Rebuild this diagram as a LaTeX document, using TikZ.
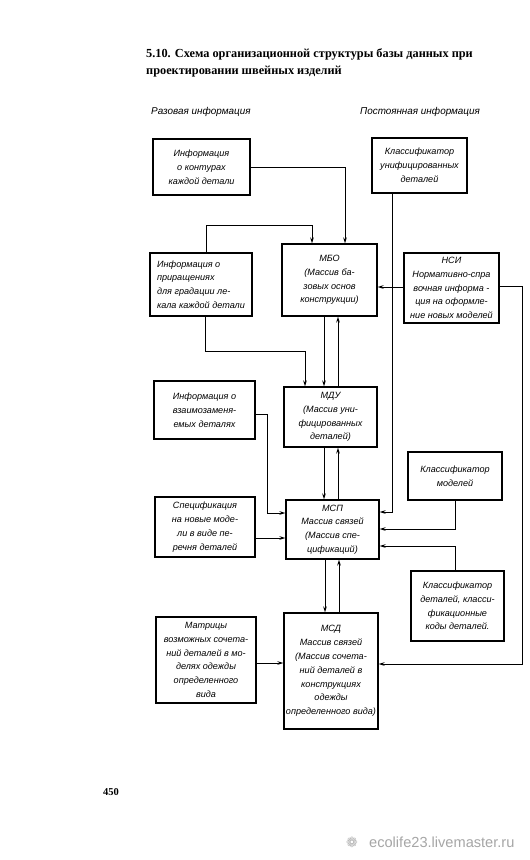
\documentclass[tikz,border=0pt]{standalone}
\usepackage{fontspec}
\setmainfont{Liberation Serif}
\newfontfamily\boxfont{Liberation Sans}
\newfontfamily\symfont{DejaVu Sans}
\usetikzlibrary{arrows.meta}
\tikzset{
  box/.style={draw, line width=1.2pt, inner sep=1pt, align=center,
    font=\boxfont\itshape\fontsize{9.1}{13.8}\selectfont},
  arr/.style={line width=0.95pt, -{Stealth[length=6pt,width=3.6pt]}},
  hdr/.style={font=\boxfont\itshape\fontsize{9.9}{11}\selectfont, inner sep=0pt},
}
\begin{document}
\begin{tikzpicture}[x=1pt,y=-1pt]
\useasboundingbox (0,0) rectangle (530,860);
\fill[white] (0,0) rectangle (530,860);
% title
\node[anchor=west, inner sep=0pt, align=left, font=\bfseries\fontsize{12.3}{16.5}\selectfont] (title) at (146,63)
  {5.10. Схема организационной структуры базы данных при\\проектировании швейных изделий};
\node[hdr, anchor=west] (h1) at (151,112) {Разовая информация};
\node[hdr, anchor=west] (h2) at (360,112) {Постоянная информация};
% boxes
\node[box, minimum width=97pt, minimum height=56pt] (b1) at (201.5,167) {Информация\\о контурах\\каждой детали};
\node[box, minimum width=95pt, minimum height=55pt] (b2) at (419.5,165.5) {Классификатор\\унифицированных\\деталей};
\node[box, minimum width=102pt, minimum height=63pt, align=left] (b3) at (201,284.5) {Информация о\\приращениях\\для градации ле-\\кала каждой детали};
\node[box, minimum width=95pt, minimum height=72pt] (mbo) at (329.5,280) {МБО\\(Массив ба-\\зовых основ\\конструкции)};
\node[box, minimum width=95pt, minimum height=70pt] (nsi) at (451.5,288) {НСИ\\Нормативно-спра\\вочная информа -\\ция на оформле-\\ние новых моделей};
\node[box, minimum width=101pt, minimum height=58pt] (b4) at (204.5,410) {Информация о\\взаимозаменя-\\емых деталях};
\node[box, minimum width=93pt, minimum height=60pt] (mdu) at (330.5,417) {МДУ\\(Массив уни-\\фицированных\\деталей)};
\node[box, minimum width=94pt, minimum height=48pt] (klm) at (455,476) {Классификатор\\моделей};
\node[box, minimum width=100pt, minimum height=60pt] (b5) at (205,527) {Спецификация\\на новые моде-\\ли в виде пе-\\речня деталей};
\node[box, minimum width=93pt, minimum height=59pt] (msp) at (332.5,529.5) {МСП\\Массив связей\\(Массив спе-\\цификаций)};
\node[box, minimum width=93pt, minimum height=70pt] (kld) at (457.5,606) {Классификатор\\деталей, класси-\\фикационные\\коды деталей.};
\node[box, minimum width=100pt, minimum height=86pt] (b6) at (206,660) {Матрицы\\возможных сочета-\\ний деталей в мо-\\делях одежды\\определенного\\вида};
\node[box, minimum width=94pt, minimum height=116pt] (msd) at (331,671) {МСД\\Массив связей\\(Массив сочета-\\ний деталей в\\конструкциях\\одежды\\определенного вида)};
% connectors
\draw[arr] (b1.east) -| (mbo.north -| 345,0);
\draw[arr] (b2.south -| 392,0) |- (msp.east |- 0,512);
\draw[arr] (b3.north -| 206,0) |- (312,225) -- (mbo.north -| 312,0);
\draw[arr] (nsi.west |- 0,287) -- (mbo.east |- 0,287);
\draw[arr] (nsi.east |- 0,286) -| (522,664) -- (msd.east |- 0,664);
\draw[arr] (klm.south -| 455,0) |- (msp.east |- 0,529);
\draw[arr] (kld.north -| 455,0) |- (msp.east |- 0,546);
\draw[arr] (b3.south -| 205,0) |- (305,351) -- (mdu.north -| 305,0);
\draw[arr] (mbo.south -| 324,0) -- (mdu.north -| 324,0);
\draw[arr] (mdu.north -| 338,0) -- (mbo.south -| 338,0);
\draw[arr] (mdu.south -| 324,0) -- (msp.north -| 324,0);
\draw[arr] (msp.north -| 338,0) -- (mdu.south -| 338,0);
\draw[arr] (msp.south -| 325,0) -- (msd.north -| 325,0);
\draw[arr] (msd.north -| 339,0) -- (msp.south -| 339,0);
\draw[arr] (b4.east |- 0,414) -| (267,513) -- (msp.west |- 0,513);
\draw[arr] (b5.east |- 0,538) -- (msp.west |- 0,538);
\draw[arr] (b6.east |- 0,663) -- (msd.west |- 0,663);
% page number and watermark
\node[anchor=west, inner sep=0pt, font=\bfseries\fontsize{10.5}{12}\selectfont] (pg) at (103,792) {450};
\node[anchor=center, inner sep=0pt, text=black!30, font=\symfont\fontsize{14}{14}\selectfont] (wmi) at (352,842) {❁};
\node[anchor=west, inner sep=0pt, text=black!35, font=\boxfont\fontsize{14.6}{16}\selectfont] (wm) at (369,842) {ecolife23.livemaster.ru};
\end{tikzpicture}
\end{document}
